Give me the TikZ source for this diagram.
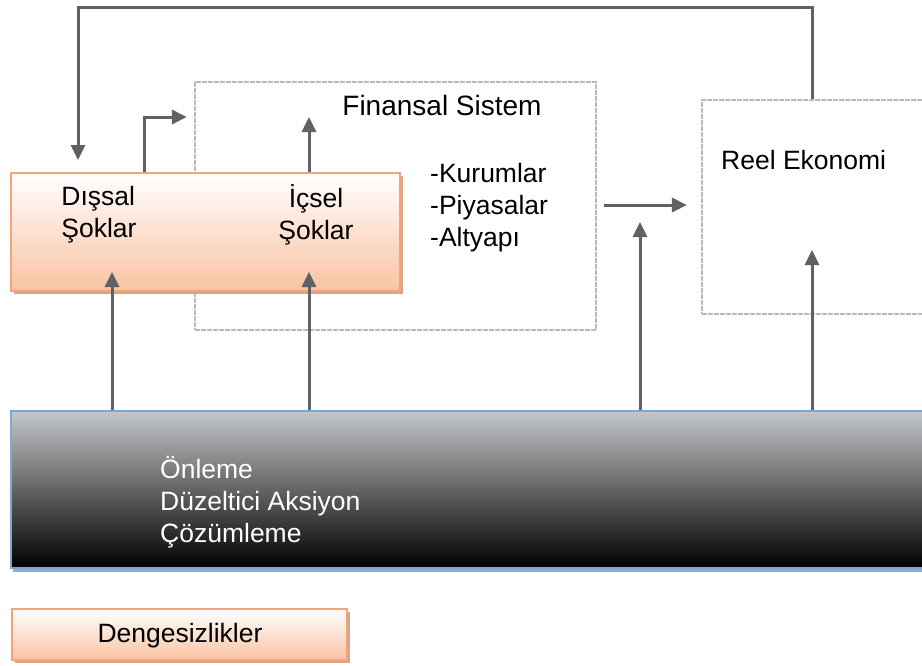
\documentclass[tikz,border=0pt]{standalone}
\usepackage{fontspec}
\setmainfont{Liberation Sans}
\usepackage{xcolor}
\usepackage{tikz}
\usetikzlibrary{arrows.meta, calc, positioning, shadows}
\definecolor{Peach}      {HTML}{FAC2A2}
\definecolor{PeachLine}  {HTML}{F5A37B}
\definecolor{PeachShade} {HTML}{D8A38C}
\definecolor{Steel}      {HTML}{C4C7CA}
\definecolor{SteelMid}   {HTML}{A8ABAE}
\definecolor{SkyLine}    {HTML}{7EA6D0}
\definecolor{SkyShade}   {HTML}{8EABC9}
\definecolor{Frame}      {HTML}{B8BABC}
\definecolor{Ink}        {HTML}{5E6264}

\tikzset{
  arrow/.style={draw=Ink, line width=3pt, -{Triangle[width=14pt,length=15pt]}},
  shockbox/.style={draw=PeachLine, line width=2pt, top color=white, bottom color=Peach,
    drop shadow={shadow xshift=3pt, shadow yshift=-3pt, fill=PeachShade, opacity=1}},
  framebox/.style={draw=Frame, line width=2.2pt, dash pattern=on 5pt off 1pt},
  policybox/.style={draw=SkyLine, line width=2pt, top color=Steel, middle color=SteelMid,
    bottom color=black,
    drop shadow={shadow xshift=2pt, shadow yshift=-4pt, fill=SkyShade, opacity=1}},
  label/.style={font=\fontsize{26.5}{32}\selectfont, text=black, inner sep=0pt}
}

\begin{document}
\begin{tikzpicture}[x=1pt, y=-1pt]
  \clip (0,0) rectangle (922,665);
  \fill[white] (0,0) rectangle (922,665);
  % Finansal Sistem
  \node[framebox, minimum width=401pt, minimum height=248pt] (finans) at (395.5,206) {};
  \node[label, font=\fontsize{28}{32}\selectfont] (finansT) at (442,105) {Finansal Sistem};
  \node[label, align=left, anchor=west] (liste) at (430,208)
    {-Kurumlar\\-Piyasalar\\-Altyapı};
  % Reel Ekonomi
  \node[framebox, minimum width=258pt, minimum height=214pt] (reel) at (831,207) {};
  \node[label, anchor=west] (reelT) at (721,160) {Reel Ekonomi};
  % Soklar
  \node[shockbox, minimum width=389pt, minimum height=118pt] (soklar) at (205.5,232) {};
  \node[label, align=left] (dissal) at (99,215) {Dışsal\\Şoklar};
  \node[label, align=center] (icsel) at (316,215) {İçsel\\Şoklar};
  % Onleme
  \node[policybox, minimum width=949pt, minimum height=157pt] (onlem) at (485.5,489.5) {};
  \node[label, text=white, align=left, anchor=west] (onlemT) at (160,502)
    {Önleme\\Düzeltici Aksiyon\\Çözümleme};
  % Dengesizlikler
  \node[shockbox, minimum width=335pt, minimum height=51pt] (denge) at (179.5,634.5) {};
  \node[label] (dengeT) at (180,636) {Dengesizlikler};

  % arrow ends
  \coordinate (geriR) at (812,7);
  \coordinate (geriL) at (78,7);
  \coordinate (geriU) at (78,160);
  \coordinate (disU) at (144,117);
  \coordinate (icU) at (309,117);
  \coordinate (a1) at (112,272);
  \coordinate (a2) at (309,272);
  \coordinate (a3) at (640,222);
  \coordinate (a4) at (812,250);
  \coordinate (fr) at (604,205);

  % connectors
  \draw[arrow] (reel.north -| geriR) -- (geriR) -- (geriL) -- (geriU);
  \draw[arrow] (soklar.north -| disU) -- (disU) -- ([xshift=-7pt]finans.west |- disU);
  \draw[arrow] (soklar.north -| icU) -- (icU);
  \draw[arrow] (onlem.north -| a1) -- (a1);
  \draw[arrow] (onlem.north -| a2) -- (a2);
  \draw[arrow] (onlem.north -| a3) -- (a3);
  \draw[arrow] (onlem.north -| a4) -- (a4);
  \draw[arrow] (fr) -- ([xshift=-14pt]reel.west |- fr);
\end{tikzpicture}
\end{document}
